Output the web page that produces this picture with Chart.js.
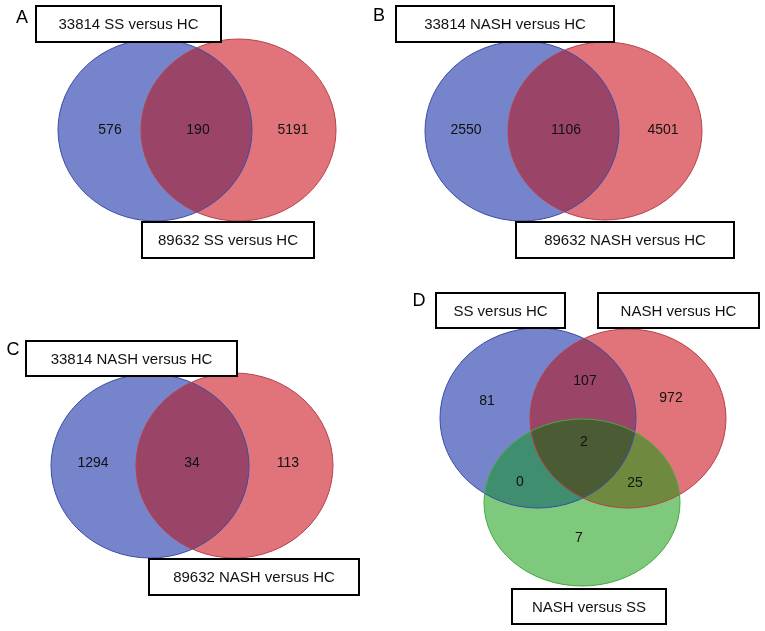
<!DOCTYPE html>
<html>
<head>
<meta charset="utf-8">
<script src="https://cdn.jsdelivr.net/npm/chart.js@4.4.1/dist/chart.umd.min.js"></script>
<style>
html,body{margin:0;padding:0;background:#fff;}
#c{display:block;}
</style>
</head>
<body>
<canvas id="c" width="765" height="631"></canvas>
<script>
// ---- data ----
const panelLetters = ['A', 'B', 'C', 'D'];
const setNamesA = ['33814 SS versus HC', '89632 SS versus HC'];
const setNamesB = ['33814 NASH versus HC', '89632 NASH versus HC'];
const setNamesC = ['33814 NASH versus HC', '89632 NASH versus HC'];
const setNamesD = ['SS versus HC', 'NASH versus HC', 'NASH versus SS'];
// two-set counts: [only left, both, only right]
const countsA = [576, 190, 5191];
const countsB = [2550, 1106, 4501];
const countsC = [1294, 34, 113];
// three-set counts: [SS only, SS&NASH-HC, NASH-HC only, all, SS&NASH-SS, NASH-HC&NASH-SS, NASH-SS only]
const countsD = [81, 107, 972, 2, 0, 25, 7];

// ---- layout (chart units, 765 x 631 space) ----
const layout = {
  A: { sets: [[155, 130, 97, 91], [238.5, 130, 97.5, 91]],
       boxes: [[36, 6, 221, 42], [142, 222, 314, 258]],
       letter: [22, 18],
       countPos: [[110, 130], [198, 130], [293, 130]] },
  B: { sets: [[522, 131, 97, 90], [605, 131, 97, 89]],
       boxes: [[396, 6, 614, 42], [516, 222, 734, 258]],
       letter: [379, 16],
       countPos: [[466, 130], [566, 130], [663, 130]] },
  C: { sets: [[150, 466, 99, 92], [234.5, 465.5, 98.5, 92.5]],
       boxes: [[26, 341, 237, 376], [149, 559, 359, 595]],
       letter: [13, 350],
       countPos: [[93, 463], [192, 463], [288, 463]] },
  D: { sets: [[538, 418, 98, 90], [628, 418.5, 98, 89.5], [582, 502.5, 98, 83.5]],
       boxes: [[436, 293, 565, 328], [598, 293, 759, 328], [512, 589, 666, 624]],
       letter: [419, 301],
       countPos: [[487, 401], [585, 381], [671, 398], [584, 442], [520, 482], [635, 483], [579, 538]] }
};
const fills = { b: '#7584cb', r: '#e0747a', g: '#7ec97b', br: '#9a4468', bg: '#3f8e6f', rg: '#6f8a3e', brg: '#4b5b34' };
const strokes = ['#3c4ca6', '#b8404a', '#45a845'];

const panelData = [
  { key: 'A', names: setNamesA, counts: countsA },
  { key: 'B', names: setNamesB, counts: countsB },
  { key: 'C', names: setNamesC, counts: countsC },
  { key: 'D', names: setNamesD, counts: countsD }
];

const points = [];
panelData.forEach(p => {
  p.counts.forEach((v, i) => {
    const pos = layout[p.key].countPos[i];
    points.push({ x: pos[0], y: pos[1], v: v });
  });
});

const vennPlugin = {
  id: 'venn',
  beforeDatasetsDraw(chart) {
    const ctx = chart.ctx, xs = chart.scales.x, ys = chart.scales.y;
    const px = v => xs.getPixelForValue(v), py = v => ys.getPixelForValue(v);
    const path = e => {
      const cx = px(e[0]), cy = py(e[1]);
      const rx = Math.abs(px(e[0] + e[2]) - cx), ry = Math.abs(py(e[1] + e[3]) - cy);
      ctx.beginPath(); ctx.ellipse(cx, cy, rx, ry, 0, 0, Math.PI * 2);
    };
    const fillE = (e, c) => { path(e); ctx.fillStyle = c; ctx.fill(); };
    const clipE = e => { path(e); ctx.clip(); };
    panelData.forEach(p => {
      const L = layout[p.key], s = L.sets;
      ctx.save();
      fillE(s[0], fills.b);
      fillE(s[1], fills.r);
      ctx.save(); clipE(s[0]); fillE(s[1], fills.br); ctx.restore();
      if (s.length === 3) {
        fillE(s[2], fills.g);
        ctx.save(); clipE(s[2]); fillE(s[0], fills.bg); ctx.restore();
        ctx.save(); clipE(s[2]); fillE(s[1], fills.rg); ctx.restore();
        ctx.save(); clipE(s[2]); clipE(s[0]); fillE(s[1], fills.brg); ctx.restore();
      }
      s.forEach((e, i) => { path(e); ctx.strokeStyle = strokes[i]; ctx.lineWidth = 1; ctx.stroke(); });
      ctx.restore();
    });
  },
  afterDatasetsDraw(chart) {
    const ctx = chart.ctx, xs = chart.scales.x, ys = chart.scales.y;
    const px = v => xs.getPixelForValue(v), py = v => ys.getPixelForValue(v);
    ctx.save();
    // counts
    ctx.fillStyle = '#111';
    ctx.font = '14px "Liberation Sans", Arial, sans-serif';
    ctx.textAlign = 'center'; ctx.textBaseline = 'middle';
    const meta = chart.getDatasetMeta(0);
    meta.data.forEach((el, i) => { ctx.fillText(String(points[i].v), el.x, el.y); });
    // boxes
    panelData.forEach((p, pi) => {
      const L = layout[p.key];
      L.boxes.forEach((b, i) => {
        const x1 = px(b[0]), y1 = py(b[1]), x2 = px(b[2]), y2 = py(b[3]);
        ctx.fillStyle = '#fff';
        ctx.fillRect(x1, y1, x2 - x1, y2 - y1);
        ctx.strokeStyle = '#000'; ctx.lineWidth = 2;
        ctx.strokeRect(x1, y1, x2 - x1, y2 - y1);
        ctx.fillStyle = '#111';
        ctx.font = '15px "Liberation Sans", Arial, sans-serif';
        ctx.fillText(p.names[i], (x1 + x2) / 2, (y1 + y2) / 2 + 1);
      });
      ctx.font = '18px "Liberation Sans", Arial, sans-serif';
      ctx.fillStyle = '#000';
      ctx.fillText(panelLetters[pi], px(L.letter[0]), py(L.letter[1]));
    });
    ctx.restore();
  }
};

new Chart(document.getElementById('c'), {
  type: 'scatter',
  data: { datasets: [{ data: points, pointRadius: 0, pointHoverRadius: 0 }] },
  options: {
    responsive: false,
    animation: false,
    layout: { padding: 0 },
    plugins: { legend: { display: false }, tooltip: { enabled: false } },
    scales: {
      x: { type: 'linear', min: 0, max: 765, display: false },
      y: { type: 'linear', min: 0, max: 631, reverse: true, display: false }
    }
  },
  plugins: [vennPlugin]
});
</script>
</body>
</html>
